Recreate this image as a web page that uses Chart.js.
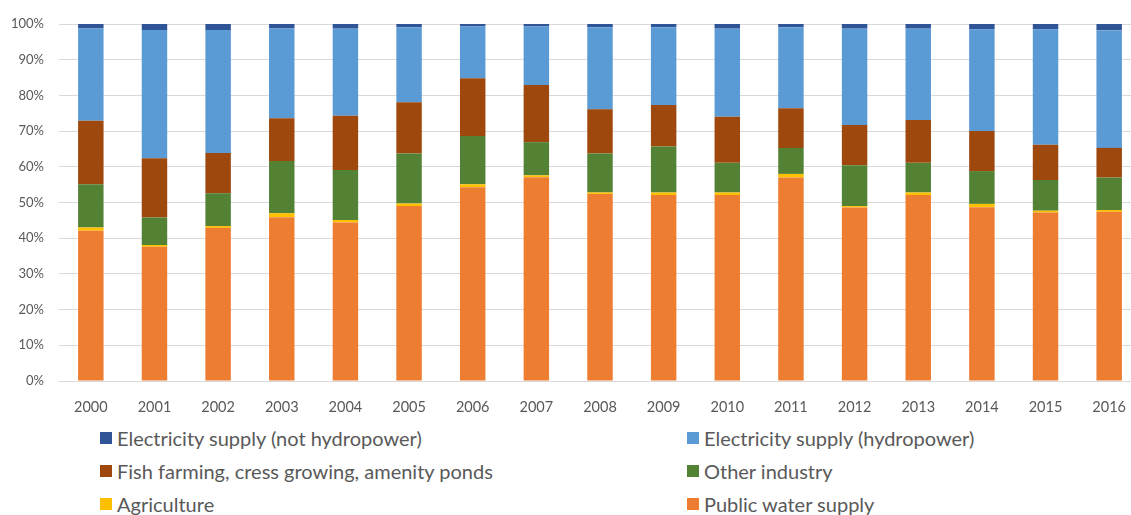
<!DOCTYPE html>
<html lang="en">
  <head>
    <meta charset="UTF-8" />
    <title>Water abstraction by use</title>
    <style>
      html, body { margin: 0; padding: 0; background: #fff; overflow: hidden; }
      body { width: 1131px; height: 515px; position: relative; }
      #wrap { position: absolute; left: 0; top: 0; width: 1141px; height: 420px; }
      #legend {
        position: absolute; left: 0; top: 426px; width: 1131px;
        font-family: Lato, "Open Sans", sans-serif; font-size: 20px; color: #595959;
      }
      .item { position: absolute; display: flex; align-items: center; white-space: nowrap; }
      .box { width: 12px; height: 12px; margin-right: 5px; }
    </style>
  </head>
  <body>
    <div id="wrap"><canvas id="myChart"></canvas></div>
    <div id="legend"></div>

    <script src="https://cdn.jsdelivr.net/npm/chart.js@4/dist/chart.umd.min.js"></script>
    <script>
      const years = ["2000", "2001", "2002", "2003", "2004", "2005", "2006", "2007", "2008",
        "2009", "2010", "2011", "2012", "2013", "2014", "2015", "2016"];

      // shares of total abstraction, percent (stacked bottom to top)
      const publicWater = [42.1, 37.6, 42.9, 45.9, 44.4, 49.0, 54.3, 57.1, 52.4, 52.1, 52.1, 57.0, 48.6, 52.1, 48.7, 47.2, 47.4];
      const agriculture = [0.9, 0.5, 0.5, 1.1, 0.7, 0.7, 0.8, 0.5, 0.4, 0.7, 0.7, 1.0, 0.4, 0.7, 0.9, 0.5, 0.5];
      const otherIndustry = [12.1, 7.7, 9.2, 14.6, 14.0, 14.0, 13.5, 9.3, 10.9, 12.9, 8.3, 7.3, 11.4, 8.3, 9.2, 8.6, 9.1];
      const fishFarming = [17.8, 16.6, 11.3, 12.0, 15.2, 14.4, 16.2, 16.0, 12.4, 11.6, 12.9, 11.1, 11.3, 12.0, 11.2, 9.9, 8.3];
      const hydro = [25.9, 35.9, 34.4, 25.2, 24.4, 21.0, 14.5, 16.4, 23.0, 21.8, 24.7, 22.7, 27.0, 25.6, 28.5, 32.3, 32.9];
      const notHydro = [1.2, 1.7, 1.7, 1.2, 1.3, 0.9, 0.7, 0.7, 0.9, 0.9, 1.3, 0.9, 1.3, 1.3, 1.5, 1.5, 1.8];

      const yTicks = [0, 10, 20, 30, 40, 50, 60, 70, 80, 90, 100];

      const series = [
        { label: "Public water supply", data: publicWater, color: "#ED7D31" },
        { label: "Agriculture", data: agriculture, color: "#FFC000" },
        { label: "Other industry", data: otherIndustry, color: "#548235" },
        { label: "Fish farming, cress growing, amenity ponds", data: fishFarming, color: "#9E480E" },
        { label: "Electricity supply (hydropower)", data: hydro, color: "#5B9BD5" },
        { label: "Electricity supply (not hydropower)", data: notHydro, color: "#2F5597" }
      ];

      const fontFamily = "Lato, 'Open Sans', sans-serif";

      const ctx = document.getElementById("myChart").getContext("2d");
      const chart = new Chart(ctx, {
        type: "bar",
        data: {
          labels: years,
          datasets: series.map(s => ({
            label: s.label,
            data: s.data,
            backgroundColor: s.color,
            borderWidth: 0,
            categoryPercentage: 0.4,
            barPercentage: 1
          }))
        },
        options: {
          responsive: true,
          maintainAspectRatio: false,
          animation: false,
          layout: { padding: { top: 24, right: 0, left: 0, bottom: 0 } },
          plugins: { legend: { display: false }, tooltip: { enabled: false } },
          scales: {
            x: {
              stacked: true,
              grid: { display: false },
              border: { display: false },
              ticks: { color: "#595959", font: { family: fontFamily, size: 14.5 }, padding: 10, maxRotation: 0 },
              afterFit: scale => { scale.height = 39; }
            },
            y: {
              stacked: true,
              min: 0,
              max: 100,
              afterBuildTicks: scale => { scale.ticks = yTicks.map(v => ({ value: v })); },
              grid: { color: "#D9D9D9", lineWidth: 1, drawTicks: false },
              border: { display: false },
              ticks: { color: "#595959", font: { family: fontFamily, size: 13 }, padding: 15, callback: v => v + "%" },
              afterFit: scale => { scale.width = 59; }
            }
          }
        }
      });

      // two-column legend, top series first
      const legend = document.getElementById("legend");
      const order = chart.data.datasets.slice().reverse();
      order.forEach((ds, i) => {
        const item = document.createElement("div");
        item.className = "item";
        item.style.left = (i % 2 === 0 ? 100 : 687) + "px";
        item.style.top = Math.floor(i / 2) * 33 + "px";
        item.innerHTML = `<span class="box" style="background:${ds.backgroundColor}"></span><span>${ds.label}</span>`;
        legend.appendChild(item);
      });
    </script>
  </body>
</html>
